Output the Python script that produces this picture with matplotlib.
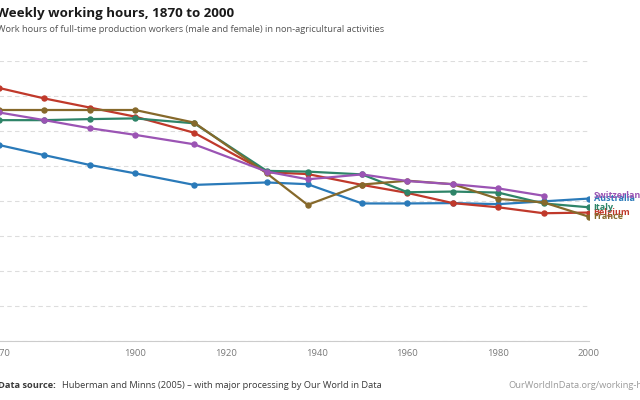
import matplotlib.pyplot as plt

plt.rcParams['font.family'] = ['Open Sans', 'DejaVu Sans']

years = [1870, 1880, 1890, 1900, 1913, 1929, 1938, 1950, 1960, 1970, 1980, 1990, 2000]

australia = [56.0, 53.1, 50.3, 47.9, 44.6, 45.3, 44.8, 39.3, 39.3, 39.4, 39.1, 39.9, 40.7]
belgium = [72.3, 69.3, 66.7, 64.1, 59.5, 48.2, 47.7, 44.6, 42.3, 39.4, 38.2, 36.5, 36.7]
italy = [63.1, 63.1, 63.4, 63.6, 62.2, 48.6, 48.4, 47.6, 42.5, 42.7, 42.4, 39.3, 38.2]
france = [66.0, 66.0, 66.0, 66.0, 62.4, 47.9, 38.9, 44.7, 45.8, 44.8, 40.6, 39.6, 35.5]
switzerland = [65.3, 63.1, 60.8, 58.9, 56.2, 48.4, 46.2, 47.6, 45.7, 44.8, 43.6, 41.5]

series = [
    ('Australia', australia, '#2a7ab9'),
    ('Belgium', belgium, '#c0392b'),
    ('Italy', italy, '#2e8468'),
    ('France', france, '#86692b'),
    ('Switzerland', switzerland, '#9b54b4'),
]

x_ticks = [1870, 1900, 1920, 1940, 1960, 1980, 2000]
y_ticks = [0, 10, 20, 30, 40, 50, 60, 70, 80]

fig = plt.figure(figsize=(6.4, 4), dpi=100)
ax = fig.add_axes([-1 / 640, 1 - 341 / 400, 590 / 640, 280 / 400])

for name, vals, col in series:
    ax.plot(years[:len(vals)], vals, '-o', color=col, lw=1.6, ms=3.6, zorder=3)
    ax.text(2001, vals[-1], name, color=col, fontsize=6.5, fontweight='bold',
            va='center', ha='left', clip_on=False)

ax.set_xlim(1870, 2000)
ax.set_ylim(0, 80)
ax.set_yticks(y_ticks)
ax.set_xticks(x_ticks)
ax.set_xticklabels([str(y) for y in x_ticks], color='#7a7a7a', fontsize=6.8)
ax.tick_params(axis='y', length=0, labelleft=False)
ax.tick_params(axis='x', length=0, pad=6)
ax.grid(axis='y', color='#dddddd', ls=(0, (4, 3)), lw=0.8)
for s in ['top', 'right', 'left']:
    ax.spines[s].set_visible(False)
ax.spines['bottom'].set_color('#cccccc')
ax.spines['bottom'].set_linewidth(0.8)

fig.text(-0.006, 1 - 14 / 400, 'Weekly working hours, 1870 to 2000', fontsize=9.6,
         fontweight='bold', color='#1a1a1a', va='center', ha='left')
fig.text(-0.004, 1 - 29 / 400,
         'Work hours of full-time production workers (male and female) in non-agricultural activities',
         fontsize=6.7, color='#555555', va='center', ha='left')
fig.text(-0.003, 1 - 385 / 400, 'Data source:', fontsize=6.7, fontweight='bold',
         color='#3a3a3a', va='center', ha='left')
fig.text(62 / 640, 1 - 385 / 400,
         'Huberman and Minns (2005) – with major processing by Our World in Data',
         fontsize=6.7, color='#3a3a3a', va='center', ha='left')
fig.text(508 / 640, 1 - 385 / 400, 'OurWorldInData.org/working-hours', fontsize=6.7,
         color='#9a9a9a', va='center', ha='left')

fig.savefig('out.png', dpi=100)
